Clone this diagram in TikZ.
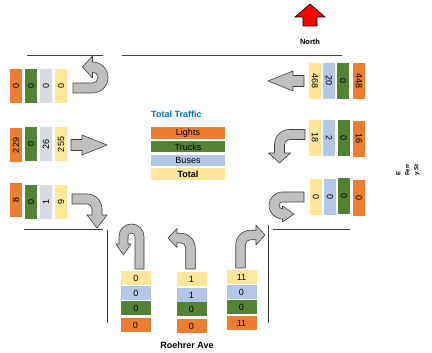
\documentclass[tikz,border=0pt]{standalone}
\usepackage{fontspec}
\setmainfont{Liberation Sans}
\definecolor{cOr}{HTML}{ED7D31}
\definecolor{cGr}{HTML}{548235}
\definecolor{cGy}{HTML}{D6DCE5}
\definecolor{cBl}{HTML}{B4C7E7}
\definecolor{cYe}{HTML}{FFE699}
\definecolor{cArr}{HTML}{BFBFBF}
\definecolor{cEdge}{HTML}{404040}
\definecolor{cTitle}{HTML}{0070C0}
% straight arrow: tail at origin, pointing +x
\newcommand{\straightarr}{%
  \filldraw[arr] (0,-5.5) -- (11,-5.5) -- (11,-10) -- (36,0) -- (11,10) -- (11,5.5) -- (0,5.5) -- cycle;}
% turn arrow: #1 L1, #2 rc, #3 L2, #4 Lh, #5 H, #6 b ; goes up then turns left
\newcommand{\turnarr}[6]{%
  \pgfmathsetmacro\tRo{#2+#6}\pgfmathsetmacro\tRi{#2-#6}%
  \pgfmathsetmacro\tX{-#2-#3}\pgfmathsetmacro\tY{#1+#2}%
  \pgfmathsetmacro\tT{-#2-#3-#4}%
  \filldraw[arr] (#6,0) -- (#6,#1) arc[start angle=0,end angle=90,radius=\tRo]
    -- (\tX,\tY+#6) -- (\tX,\tY+#5) -- (\tT,\tY) -- (\tX,\tY-#5) -- (\tX,\tY-#6)
    -- (-#2,\tY-#6) arc[start angle=90,end angle=0,radius=\tRi] -- (-#6,0) -- cycle;}
% u-turn arrow: #1 L1, #2 rc, #3 L2, #4 Lh, #5 H, #6 b ; goes up, turns left, comes down
\newcommand{\uturnarr}[6]{%
  \pgfmathsetmacro\uRo{#2+#6}\pgfmathsetmacro\uRi{#2-#6}%
  \pgfmathsetmacro\uX{-2*#2}\pgfmathsetmacro\uY{#1-#3}%
  \pgfmathsetmacro\uT{#1-#3-#4}%
  \filldraw[arr] (#6,0) -- (#6,#1) arc[start angle=0,end angle=180,radius=\uRo]
    -- (\uX-#6,\uY) -- (\uX-#5,\uY) -- (\uX,\uT) -- (\uX+#5,\uY) -- (\uX+#6,\uY)
    -- (\uX+#6,#1) arc[start angle=180,end angle=0,radius=\uRi] -- (-#6,0) -- cycle;}
\begin{document}
\begin{tikzpicture}[x=1pt,y=1pt,
  arr/.style={fill=cArr,draw=cEdge,line width=0.6pt,line join=round},
  road/.style={draw=cEdge,line width=0.8pt},
  num/.style={font=\fontsize{9}{10}\selectfont, inner sep=0pt, text=black},
  lcell/.style={num, rotate=90, minimum width=34pt, minimum height=12pt},
  rcell/.style={num, rotate=-90, minimum width=36pt, minimum height=12pt},
  bcell/.style={num, minimum width=30pt, minimum height=14pt},
  leg/.style={font=\fontsize{9}{10}\selectfont, inner sep=0pt, minimum width=74pt},
  lbl/.style={font=\bfseries\fontsize{9}{10}\selectfont, inner sep=0pt}]
\useasboundingbox (0,0) rectangle (432,353);

% roads
\draw[road] (27,298) -- (103,298);
\draw[road] (122,298) -- (342,298);
\draw[road] (24,124) -- (103,124);
\draw[road] (107,123) -- (107,30);
\draw[road] (273,124) -- (350,124);
\draw[road] (268,128) -- (268,30);

% north arrow
\filldraw[fill=red, draw=black, line width=0.6pt] (310,349) -- (325,336) -- (317,336) -- (317,327) -- (303,327) -- (303,336) -- (295,336) -- cycle;
\node[font=\bfseries\fontsize{7.5}{8}\selectfont, inner sep=0] (north) at (310,311) {North};

% left approach
\node[lcell, fill=cOr] (l1o) at (16,267) {0};
\node[lcell, fill=cGr] (l1g) at (31,267) {0};
\node[lcell, fill=cGy] (l1s) at (46,267) {0};
\node[lcell, fill=cYe] (l1y) at (61,267) {0};
\node[lcell, fill=cOr] (l2o) at (16,207.5) {229};
\node[lcell, fill=cGr] (l2g) at (31,208.5) {0};
\node[lcell, fill=cGy] (l2s) at (46,208.5) {26};
\node[lcell, fill=cYe] (l2y) at (61,208.5) {255};
\node[lcell, fill=cOr] (l3o) at (16,152.5) {8};
\node[lcell, fill=cGr] (l3g) at (31,150.5) {0};
\node[lcell, fill=cGy] (l3s) at (46,150.5) {1};
\node[lcell, fill=cYe] (l3y) at (61,150.5) {9};

\begin{scope}[shift={(73,265)}, rotate=-90]\uturnarr{19.5}{10.5}{0}{10}{11}{5}\end{scope}
\begin{scope}[shift={(71,208)}]\straightarr\end{scope}
\begin{scope}[shift={(72,154)}, rotate=-90, xscale=-1]\turnarr{15}{10}{6}{13}{10}{5}\end{scope}

% right approach
\node[rcell, fill=cYe] (r1y) at (315,272) {468};
\node[rcell, fill=cBl] (r1b) at (329,272) {20};
\node[rcell, fill=cGr] (r1g) at (343,272) {0};
\node[rcell, fill=cOr] (r1o) at (359,271.5) {448};
\node[rcell, fill=cYe] (r2y) at (315,215) {18};
\node[rcell, fill=cBl] (r2b) at (329,215) {2};
\node[rcell, fill=cGr] (r2g) at (343.5,215) {0};
\node[rcell, fill=cOr] (r2o) at (359,214) {16};
\node[rcell, fill=cYe] (r3y) at (316,155.5) {0};
\node[rcell, fill=cBl] (r3b) at (330,155.5) {0};
\node[rcell, fill=cGr] (r3g) at (344,157) {0};
\node[rcell, fill=cOr] (r3o) at (359,155) {0};

\begin{scope}[shift={(304,272)}, rotate=180]\straightarr\end{scope}
\begin{scope}[shift={(305,218.5)}, rotate=90]\turnarr{15.5}{10}{8.5}{10}{11}{5}\end{scope}
\begin{scope}[shift={(304,156)}, rotate=90]\uturnarr{21.5}{8.5}{0}{11.5}{8}{5}\end{scope}

\node[font=\bfseries\fontsize{6}{9}\selectfont, rotate=90, align=left, inner sep=0] (street) at (408,183) {E\\Ferr\\y St};

% bottom approach
\node[bcell, fill=cYe] (b1y) at (136,75) {0};
\node[bcell, fill=cBl] (b1b) at (136,60) {0};
\node[bcell, fill=cGr] (b1g) at (136,44.5) {0};
\node[bcell, fill=cOr] (b1o) at (135.5,28) {0};
\node[bcell, fill=cYe] (b2y) at (191.5,74) {1};
\node[bcell, fill=cBl] (b2b) at (191.5,58) {1};
\node[bcell, fill=cGr] (b2g) at (191.5,43.5) {0};
\node[bcell, fill=cOr] (b2o) at (191.5,27) {0};
\node[bcell, fill=cYe] (b3y) at (241.5,75.5) {11};
\node[bcell, fill=cBl] (b3b) at (241.5,60.5) {0};
\node[bcell, fill=cGr] (b3g) at (241.5,45.5) {0};
\node[bcell, fill=cOr] (b3o) at (241.5,29.5) {11};

\begin{scope}[shift={(139.5,84)}]\uturnarr{32.5}{8}{7.5}{11}{7.5}{4.5}\end{scope}
\begin{scope}[shift={(190.5,84)}]\turnarr{21}{10}{3.5}{9}{9.5}{4.75}\end{scope}
\begin{scope}[shift={(240.5,85)}, xscale=-1]\turnarr{23}{10}{5.5}{9}{10}{4.75}\end{scope}

\node[lbl] (road) at (187,8) {Roehrer Ave};

% legend
\node[lbl, text=cTitle, anchor=west] (title) at (151,239) {Total Traffic};
\node[leg, fill=cOr, minimum height=12pt] (lights) at (188,220) {Lights};
\node[leg, fill=cGr, minimum height=11pt] (trucks) at (188,206) {Trucks};
\node[leg, fill=cBl, minimum height=11pt] (buses) at (188,192.5) {Buses};
\node[leg, fill=cYe, minimum height=12pt, font=\bfseries\fontsize{9}{10}\selectfont] (total) at (188,179) {Total};
\end{tikzpicture}
\end{document}
